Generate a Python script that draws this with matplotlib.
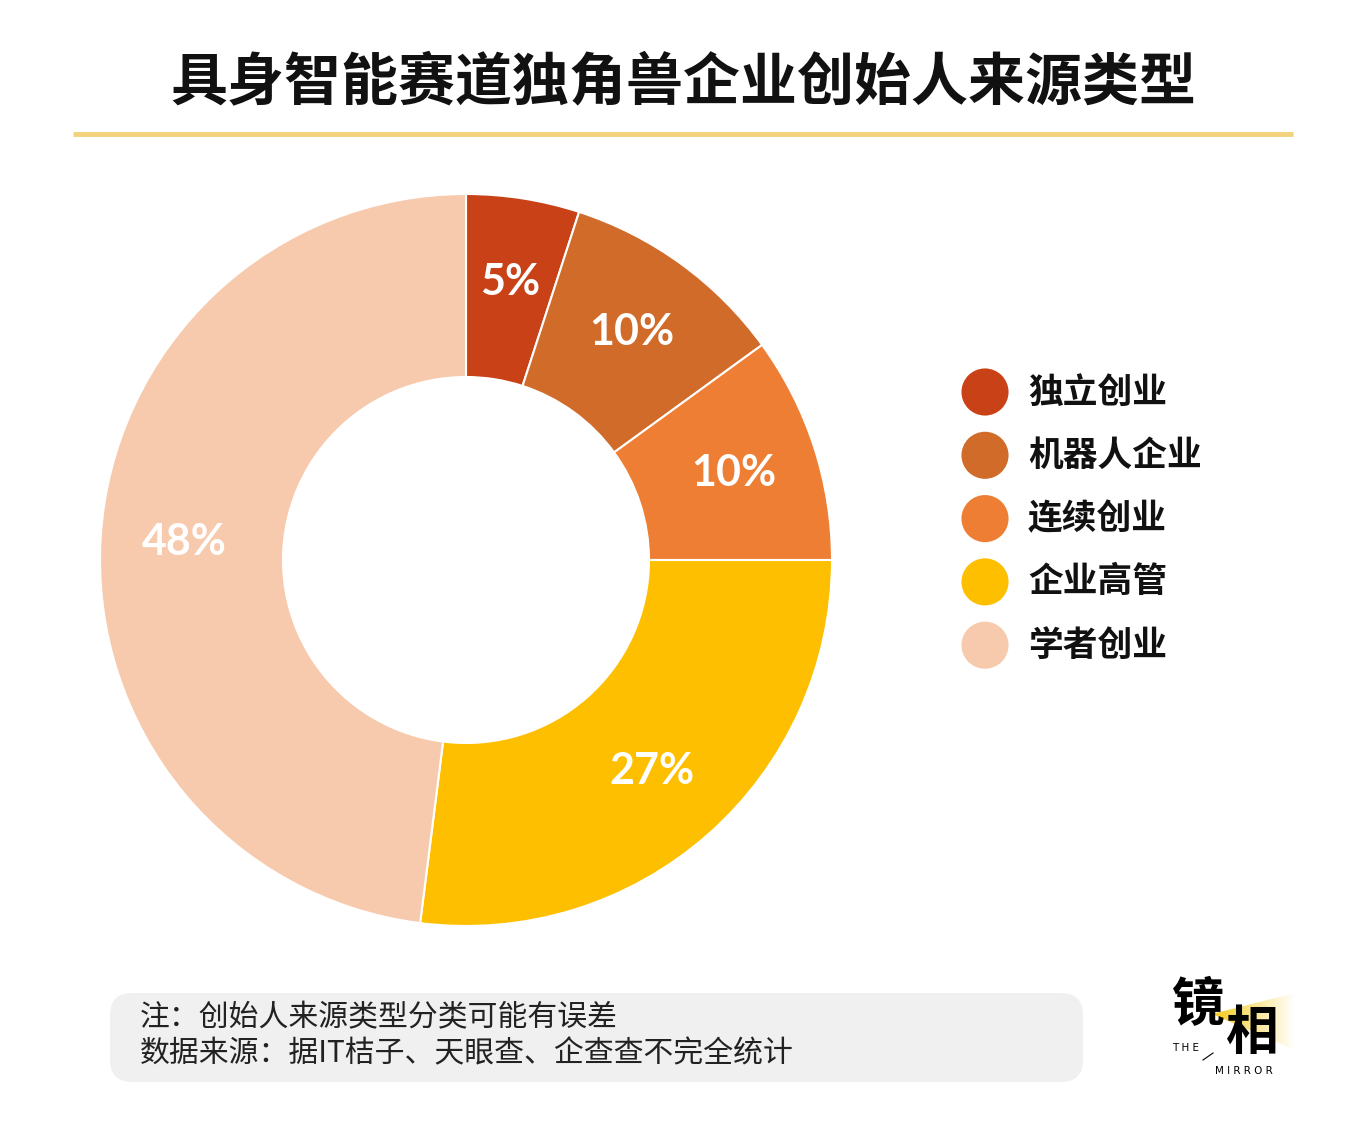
import matplotlib
matplotlib.use("Agg")
import matplotlib.pyplot as plt
import numpy as np
from matplotlib.colors import LinearSegmentedColormap
from matplotlib.patches import FancyBboxPatch, Polygon

plt.rcParams["font.family"] = ["Noto Sans CJK SC", "DejaVu Sans"]

# data
categories = ["独立创业", "机器人企业", "连续创业", "企业高管", "学者创业"]
shares = [5, 10, 10, 27, 48]
colors = ["#C94116", "#D16B2A", "#EE7E33", "#FDBF00", "#F7CAAE"]

title = "具身智能赛道独角兽企业创始人来源类型"
note_lines = ["注：创始人来源类型分类可能有误差",
              "数据来源：据IT桔子、天眼查、企查查不完全统计"]

W, H = 1366, 1121
fig = plt.figure(figsize=(W / 100, H / 100), dpi=100)
fig.patch.set_facecolor("white")


def fx(x):
    return x / W


def fy(y):
    return 1 - y / H


# background axes in pixel coords
bg = fig.add_axes([0, 0, 1, 1])
bg.set_xlim(0, W)
bg.set_ylim(H, 0)
bg.axis("off")

bg.text(683, 82, title, ha="center", va="center", fontsize=41,
        fontweight="heavy", color="#111111")
bg.plot([73, 1293], [134, 134], color="#F3D27B", lw=3.5, solid_capstyle="butt")

# donut
cx, cy, r = 466, 560, 366
ax = fig.add_axes([fx(cx - r), fy(cy + r), 2 * r / W, 2 * r / H])
wedges, _, autotexts = ax.pie(
    shares, colors=colors, startangle=90, counterclock=False, radius=1,
    autopct=lambda p: f"{p:.0f}%", pctdistance=0.77,
    wedgeprops=dict(width=0.5, edgecolor="white", linewidth=1.5),
)
for t in autotexts:
    t.set_color("white")
    t.set_fontsize(31)
    t.set_fontweight("bold")
    t.set_family(["Lato", "DejaVu Sans"])
ax.set_xlim(-1, 1)
ax.set_ylim(-1, 1)
ax.set_aspect("equal")
ax.axis("off")

# legend
for i, (lab, col) in enumerate(zip(categories, colors)):
    y = 392 + i * 63.3
    bg.scatter([985], [y], s=1150, color=col, edgecolors="none")
    bg.text(1028, y, lab, ha="left", va="center", fontsize=25,
            fontweight="bold", color="#111111")

# note box
box = FancyBboxPatch((110, 993), 973, 89, boxstyle="round,pad=0,rounding_size=22",
                     facecolor="#F0F0F0", edgecolor="none")
bg.add_patch(box)
for i, line in enumerate(note_lines):
    bg.text(140, 1018 + i * 36, line, ha="left", va="center", fontsize=21.5,
            color="#222222", fontweight="light")

# logo
cmap = LinearSegmentedColormap.from_list("g", ["#FFFFFF", "#F6C916"])
im = bg.imshow(np.linspace(1, 0, 200).reshape(1, -1), extent=[1210, 1295, 1050, 990],
               cmap=cmap, zorder=1, aspect="auto")
tri = Polygon([[1212, 1014], [1295, 993], [1295, 1050]], closed=True,
              facecolor="none", edgecolor="none")
bg.add_patch(tri)
im.set_clip_path(tri)
bg.text(1198, 1006, "镜", ha="center", va="center", fontsize=38,
        fontweight="heavy", color="black", zorder=3)
bg.text(1252, 1034, "相", ha="center", va="center", fontsize=38,
        fontweight="heavy", color="black", zorder=3)
bg.text(1172, 1048, "T H E", ha="left", va="center", fontsize=7.5,
        color="black", family="DejaVu Sans")
bg.plot([1203, 1213], [1060, 1053], color="black", lw=0.8)
bg.text(1215, 1071, "M I R R O R", ha="left", va="center", fontsize=7.5,
        color="black", family="DejaVu Sans")
bg.set_xlim(0, W)
bg.set_ylim(H, 0)

fig.savefig("out.png", dpi=100)
